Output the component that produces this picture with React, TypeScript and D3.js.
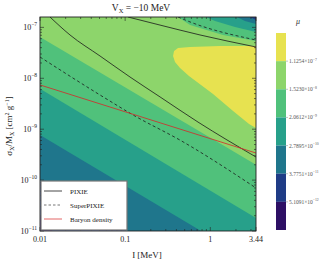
import React from 'react';
import * as d3 from 'd3';

const I_RANGE = [0.01, 3.44];
const SIGMA_RANGE = [1e-11, 1.6e-7];

const xTicks = [0.01, 0.1, 1, 3.44];
const xTickLabels = ['0.01', '0.1', '1', '3.44'];
const yTickExps = [-7, -8, -9, -10, -11];

const muMantissas = ['1.1254', '1.5230', '2.0612', '2.7895', '3.7751', '5.1091'];
const muExps = [-7, -8, -9, -10, -11, -12];
// colours from the highest band to the lowest
const bandColors = ['#e7e250', '#8dd56b', '#50c17b', '#27a08a', '#1f768c', '#1f3c86', '#2d0f64'];

// contour edges [I, sigma], each one running from the left edge to the bottom or right edge
const edgePurple = [[0.01, 2e-11], [0.014, 1e-11]];
const edgeDarkBlue = [[0.01, 9.5e-11], [0.1, 1e-11]];
const edgeBlueTeal = [[0.01, 7.7e-10], [0.78, 1e-11]];
const edgeTeal = [[0.01, 6.2e-9], [3.44, 1.8e-11]];
const edgeGreen = [[0.01, 6.5e-8], [3.44, 2.0e-10]];

// yellow island (mu above 1.1254e-7)
const yellowIsland = [
  [3.44, 4.31e-8], [1.3, 4.31e-8], [0.578, 4.12e-8], [0.418, 3.94e-8], [0.375, 3.43e-8],
  [0.365, 2.74e-8], [0.385, 2.09e-8], [0.441, 1.59e-8], [0.562, 1.11e-8], [1.076, 4.91e-9],
  [1.85, 2.28e-9], [2.85, 1.26e-9], [3.44, 1.05e-9],
];

// falling values in the top right corner, from the top edge to the right edge
const cornerGreen = [[0.418, 1.6e-7], [0.578, 1.11e-7], [1.41, 7.1e-8], [3.44, 5.4e-8]];
const cornerTeal = [[0.89, 1.6e-7], [1.135, 1.33e-7], [1.95, 1.02e-7], [3.44, 8.1e-8]];
const cornerBlueTeal = [[2.06, 1.6e-7], [2.55, 1.33e-7], [3.44, 1.17e-7]];
const cornerDarkBlue = [[2.93, 1.6e-7], [3.44, 1.4e-7]];

// constraint curves
const pixieA = [[0.0131, 1.6e-7], [0.0225, 7.1e-8], [0.0507, 2.74e-8], [0.114, 1.06e-8], [0.257, 4.3e-9], [0.717, 1.38e-9], [3.44, 2.84e-10]];
const pixieB = [[0.108, 1.6e-7], [0.257, 1.11e-7], [0.757, 7.1e-8], [3.44, 4.12e-8]];
const superA = [[0.01, 2.62e-8], [0.0507, 4.7e-9], [0.1306, 1.81e-9], [0.441, 6.1e-10], [3.44, 7.0e-11]];
const superB = [[0.418, 1.6e-7], [0.578, 1.28e-7], [3.44, 5.65e-8]];
const baryon = [[0.01, 7.4e-9], [3.44, 3.4e-10]];

const legendItems = ['PIXIE', 'SuperPIXIE', 'Baryon density'];

const W = 333;
const H = 262;
const plot = { left: 40, right: 256, top: 17, bottom: 231 };
const FONT = 'Liberation Serif, DejaVu Serif, serif';

const App = () => {
  const x = d3.scaleLog().domain(I_RANGE).range([plot.left, plot.right]);
  const y = d3.scaleLog().domain(SIGMA_RANGE).range([plot.bottom, plot.top]);

  const toPts = (arr) => arr.map((d) => [x(d[0]), y(d[1])]);
  const poly = (pts) => 'M' + pts.map((p) => p.join(',')).join('L') + 'Z';

  // region above an edge
  const above = (edge) => {
    const pts = toPts(edge);
    const last = edge[edge.length - 1];
    if (last[1] <= SIGMA_RANGE[0]) pts.push([x(I_RANGE[1]), y(SIGMA_RANGE[0])]);
    pts.push([x(I_RANGE[1]), y(SIGMA_RANGE[1])]);
    pts.push([x(I_RANGE[0]), y(SIGMA_RANGE[1])]);
    return poly(pts);
  };
  // region in the top right corner
  const corner = (edge) => {
    const pts = toPts(edge);
    pts.push([x(I_RANGE[1]), y(SIGMA_RANGE[1])]);
    return poly(pts);
  };

  const line = d3.line().x((d) => x(d[0])).y((d) => y(d[1])).curve(d3.curveMonotoneX);

  // minor ticks
  const xMinor = [];
  [0.01, 0.1, 1].forEach((b) => {
    for (let k = 2; k <= 9; k++) if (b * k <= I_RANGE[1]) xMinor.push(b * k);
  });
  const yMinor = [];
  yTickExps.forEach((e) => {
    for (let k = 2; k <= 9; k++) {
      const v = k * Math.pow(10, e);
      if (v <= SIGMA_RANGE[1]) yMinor.push(v);
    }
  });

  // colourbar
  const cb = { x: 276, w: 10, top: 33, bottom: 230 };
  const cbY = d3.scaleLinear().domain([0, bandColors.length]).range([cb.top, cb.bottom]);

  const lg = { x: 41, y: 181, w: 86, h: 49 };
  const lgRows = [191, 205, 219];

  return (
    <svg width={W} height={H} style={{ position: 'absolute', left: 0, top: 0 }} fontFamily={FONT}>
      <defs>
        <clipPath id="plotclip">
          <rect x={plot.left} y={plot.top} width={plot.right - plot.left} height={plot.bottom - plot.top} />
        </clipPath>
      </defs>
      <rect width={W} height={H} fill="#fff" />

      <g clipPath="url(#plotclip)">
        <rect x={plot.left} y={plot.top} width={plot.right - plot.left} height={plot.bottom - plot.top} fill={bandColors[6]} />
        <path d={above(edgePurple)} fill={bandColors[5]} />
        <path d={above(edgeDarkBlue)} fill={bandColors[4]} />
        <path d={above(edgeBlueTeal)} fill={bandColors[3]} />
        <path d={above(edgeTeal)} fill={bandColors[2]} />
        <path d={above(edgeGreen)} fill={bandColors[1]} />
        <path d={poly(toPts(yellowIsland))} fill={bandColors[0]} />
        <path d={corner(cornerGreen)} fill={bandColors[2]} />
        <path d={corner(cornerTeal)} fill={bandColors[3]} />
        <path d={corner(cornerBlueTeal)} fill={bandColors[4]} />
        <path d={corner(cornerDarkBlue)} fill={bandColors[5]} />

        <path d={line(pixieA)} fill="none" stroke="#1a1a1a" strokeWidth={0.8} />
        <path d={line(pixieB)} fill="none" stroke="#1a1a1a" strokeWidth={0.8} />
        <path d={line(superA)} fill="none" stroke="#1a1a1a" strokeWidth={0.8} strokeDasharray="3,2.5" />
        <path d={line(superB)} fill="none" stroke="#1a1a1a" strokeWidth={0.8} strokeDasharray="3,2.5" />
        <path d={line(baryon)} fill="none" stroke="#d62728" strokeWidth={0.8} />
      </g>

      {/* ticks, all inward */}
      <g stroke="#222" strokeWidth={0.6}>
        {xTicks.map((t) => (
          <g key={'xt' + t}>
            <line x1={x(t)} x2={x(t)} y1={plot.bottom} y2={plot.bottom - 4} />
            <line x1={x(t)} x2={x(t)} y1={plot.top} y2={plot.top + 4} />
          </g>
        ))}
        {xMinor.map((t) => (
          <g key={'xm' + t}>
            <line x1={x(t)} x2={x(t)} y1={plot.bottom} y2={plot.bottom - 2} />
            <line x1={x(t)} x2={x(t)} y1={plot.top} y2={plot.top + 2} />
          </g>
        ))}
        {yTickExps.map((e) => (
          <g key={'yt' + e}>
            <line x1={plot.left} x2={plot.left + 4} y1={y(Math.pow(10, e))} y2={y(Math.pow(10, e))} />
            <line x1={plot.right} x2={plot.right - 4} y1={y(Math.pow(10, e))} y2={y(Math.pow(10, e))} />
          </g>
        ))}
        {yMinor.map((v, i) => (
          <g key={'ym' + i}>
            <line x1={plot.left} x2={plot.left + 2} y1={y(v)} y2={y(v)} />
            <line x1={plot.right} x2={plot.right - 2} y1={y(v)} y2={y(v)} />
          </g>
        ))}
      </g>
      <rect x={plot.left} y={plot.top} width={plot.right - plot.left} height={plot.bottom - plot.top} fill="none" stroke="#222" strokeWidth={0.9} />

      {/* tick labels */}
      <g fontSize={8} fill="#222">
        {xTicks.map((t, i) => (
          <text key={'xl' + t} x={x(t)} y={plot.bottom + 11} textAnchor="middle">{xTickLabels[i]}</text>
        ))}
        {yTickExps.map((e) => (
          <text key={'yl' + e} x={plot.left - 3} y={y(Math.pow(10, e)) + 3} textAnchor="end">
            10<tspan fontSize={5.5} dy={-4}>{'\u2212' + Math.abs(e)}</tspan>
          </text>
        ))}
      </g>

      {/* axis labels and title */}
      <text x={147} y={258} textAnchor="middle" fontSize={9} fill="#222">I [MeV]</text>
      <text transform="translate(12,126) rotate(-90)" textAnchor="middle" fontSize={9} fill="#222">
        σ<tspan fontSize={6} dy={2}>X</tspan><tspan dy={-2}>/M</tspan><tspan fontSize={6} dy={2}>X</tspan>
        <tspan dy={-2}>{'  [cm'}</tspan><tspan fontSize={6} dy={-3.5}>2</tspan><tspan dy={3.5}> g</tspan>
        <tspan fontSize={6} dy={-3.5}>{'\u22121'}</tspan><tspan dy={3.5}>]</tspan>
      </text>
      <text x={141} y={11} textAnchor="middle" fontSize={9.5} fill="#222">
        V<tspan fontSize={6.5} dy={2}>X</tspan><tspan dy={-2}>{' = \u221210 MeV'}</tspan>
      </text>

      {/* legend */}
      <rect x={lg.x} y={lg.y} width={lg.w} height={lg.h} fill="#fff" stroke="#777" strokeWidth={1.2} />
      {legendItems.map((name, i) => (
        <g key={name}>
          <line x1={lg.x + 3} x2={lg.x + 21} y1={lgRows[i]} y2={lgRows[i]}
            stroke={i === 2 ? '#e05555' : i === 1 ? '#666' : '#333'} strokeWidth={0.9}
            strokeDasharray={i === 1 ? '2.5,2' : undefined} />
          <text x={lg.x + 29} y={lgRows[i] + 2.5} fontSize={7} fill="#222">{name}</text>
        </g>
      ))}

      {/* colourbar */}
      <text x={298} y={24} textAnchor="middle" fontSize={8} fontStyle="italic" fill="#333">μ</text>
      {bandColors.map((c, i) => (
        <rect key={c} x={cb.x} y={cbY(i)} width={cb.w} height={cbY(i + 1) - cbY(i)} fill={c} />
      ))}
      {muMantissas.map((m, i) => (
        <g key={m}>
          <line x1={cb.x + cb.w} x2={cb.x + cb.w + 2} y1={cbY(i + 1)} y2={cbY(i + 1)} stroke="#888" strokeWidth={0.5} />
          <text x={cb.x + cb.w + 3} y={cbY(i + 1) + 2} fontSize={5.5} fill="#555">
            {m + '\u00d710'}<tspan fontSize={3.8} dy={-2.5}>{'\u2212' + Math.abs(muExps[i])}</tspan>
          </text>
        </g>
      ))}
    </svg>
  );
};

export default App;
